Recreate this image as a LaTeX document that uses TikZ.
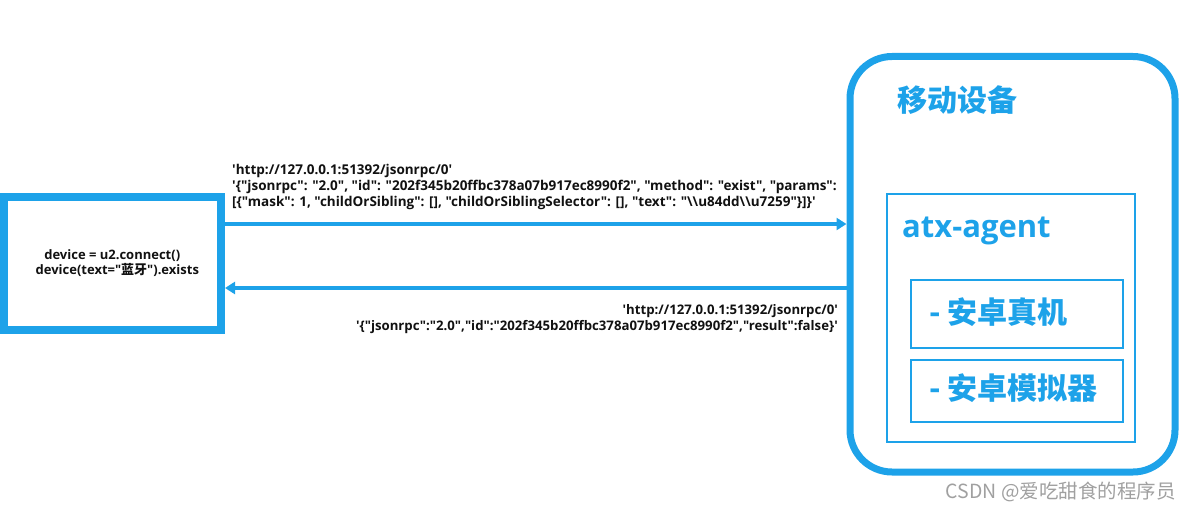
\documentclass[tikz,border=0pt]{standalone}
\usepackage{fontspec}
\setmainfont{Open Sans}[Ligatures=TeXOff]
\newfontfamily\cjk{Noto Sans CJK SC}[Ligatures=TeXOff]
\usetikzlibrary{arrows.meta}
\definecolor{dev}{HTML}{1DA2E9}
\definecolor{ink}{HTML}{111111}
\definecolor{wmark}{HTML}{A0A0A0}

\begin{document}
\begin{tikzpicture}[x=1pt, y=-1pt, ink,
  >={Triangle[length=10pt,width=12pt]},
  flow/.style={->, draw=dev, line width=4.5pt},
  msg/.style={font=\fontsize{13.5}{16}\selectfont\bfseries, inner sep=0pt},
  head/.style={font=\cjk\fontsize{30}{32}\selectfont\bfseries, text=dev, inner sep=0pt, anchor=west},
  subbox/.style={draw=dev, line width=2pt, minimum width=212pt, minimum height=#1},
  subbox/.default=68pt]

\useasboundingbox (0,0) rectangle (1191,511);

% client script
\node[draw=dev, line width=8pt, minimum width=217.5pt, minimum height=132.5pt,
      msg, font=\fontsize{13}{15.5}\selectfont\bfseries, align=center] (client) at (112.25,263.25)
  {device = u2.connect()\\ \ \ \ device(text="{\cjk 蓝牙}").exists};

% mobile device
\node[draw=dev, line width=7pt, rounded corners=42pt, minimum width=325pt,
      minimum height=415.5pt] (device) at (1012.5,264.25) {};
\node[head] (devname) at (897,100) {移动设备};

% atx-agent
\node[draw=dev, line width=2pt, minimum width=248pt, minimum height=248pt] (agent) at (1011,318) {};
\node[head, font=\fontsize{31}{32}\selectfont\bfseries] (agentname) at (902,230.5) {atx-agent};
\node[subbox] (real) at (1017,314) {};
\node[head] (realname) at (929,312) {- 安卓真机};
\node[subbox=62pt] (emu) at (1017,391) {};
\node[head] (emuname) at (929,388) {- 安卓模拟器};

% request
\coordinate (req) at (0,224);
\draw[flow] (client.east |- req) -- (device.west |- req);
\node[msg, align=left, anchor=west] (reqtext) at (232,187)
  {'http://127.0.0.1:51392/jsonrpc/0'\\
   '\{"jsonrpc": "2.0", "id": "202f345b20ffbc378a07b917ec8990f2", "method": "exist", "params":\\
   {[}\{"mask": 1, "childOrSibling": {[]}, "childOrSiblingSelector": {[]}, "text": "\textbackslash\textbackslash u84dd\textbackslash\textbackslash u7259"\}{]}\}'};

% response
\coordinate (resp) at (0,288);
\draw[flow] (device.west |- resp) -- (client.east |- resp);
\node[msg, font=\fontsize{13.2}{16}\selectfont\bfseries, align=right, anchor=east] (resptext) at (838,319)
  {'http://127.0.0.1:51392/jsonrpc/0'\\
   '\{"jsonrpc":"2.0","id":"202f345b20ffbc378a07b917ec8990f2","result":false\}'};

% watermark
\node[font=\cjk\fontsize{19.5}{21}\selectfont, text=wmark, anchor=east, inner sep=0pt] (wm) at (1176,492)
  {CSDN @爱吃甜食的程序员};

\end{tikzpicture}
\end{document}
